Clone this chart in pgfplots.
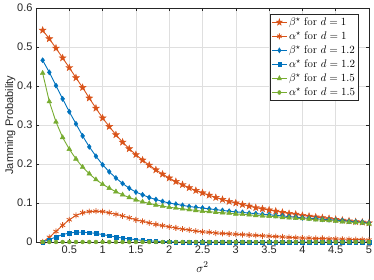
\documentclass[border=0pt]{standalone}
\usepackage{pgfplots}
\pgfplotsset{compat=1.18}
\usepackage{pgfplotstable}
\usepackage{fontspec}
\newfontfamily\axfont{Liberation Sans}
\definecolor{mred}{rgb}{0.85,0.325,0.098}
\definecolor{mblue}{rgb}{0,0.447,0.741}
\definecolor{mgreen}{rgb}{0.466,0.674,0.188}
\definecolor{axgray}{rgb}{0.15,0.15,0.15}
\pgfdeclareplotmark{pentagram}{%
 \pgfpathmoveto{\pgfpointpolar{90}{\pgfplotmarksize}}%
 \pgfpathlineto{\pgfpointpolar{126}{0.4\pgfplotmarksize}}%
 \pgfpathlineto{\pgfpointpolar{162}{\pgfplotmarksize}}%
 \pgfpathlineto{\pgfpointpolar{198}{0.4\pgfplotmarksize}}%
 \pgfpathlineto{\pgfpointpolar{234}{\pgfplotmarksize}}%
 \pgfpathlineto{\pgfpointpolar{270}{0.4\pgfplotmarksize}}%
 \pgfpathlineto{\pgfpointpolar{306}{\pgfplotmarksize}}%
 \pgfpathlineto{\pgfpointpolar{342}{0.4\pgfplotmarksize}}%
 \pgfpathlineto{\pgfpointpolar{18}{\pgfplotmarksize}}%
 \pgfpathlineto{\pgfpointpolar{54}{0.4\pgfplotmarksize}}%
 \pgfpathclose\pgfusepathqfillstroke}
\pgfplotstableread{
x    b1    a1    b12   a12   b15   a15
0.1 0.543 0.000 0.466 0.000 0.433 0
0.2 0.521 0.012 0.435 0.006 0.360 0
0.3 0.497 0.027 0.401 0.013 0.308 0
0.4 0.472 0.043 0.367 0.019 0.268 0
0.5 0.447 0.057 0.334 0.023 0.238 0
0.6 0.421 0.068 0.303 0.025 0.213 0
0.7 0.396 0.075 0.272 0.025 0.192 0
0.8 0.369 0.078 0.244 0.024 0.175 0
0.9 0.343 0.079 0.220 0.022 0.160 0
1.0 0.318 0.078 0.198 0.019 0.148 0
1.1 0.296 0.075 0.180 0.016 0.138 0
1.2 0.275 0.071 0.164 0.013 0.129 0
1.3 0.256 0.067 0.150 0.010 0.121 0
1.4 0.239 0.062 0.138 0.008 0.114 0
1.5 0.224 0.057 0.128 0.006 0.108 0
1.6 0.210 0.053 0.121 0.004 0.103 0
1.7 0.197 0.049 0.114 0.003 0.099 0
1.8 0.185 0.045 0.109 0.002 0.095 0
1.9 0.174 0.042 0.104 0.001 0.092 0
2.0 0.164 0.039 0.100 0.001 0.089 0
2.1 0.155 0.036 0.097 0.000 0.087 0
2.2 0.147 0.033 0.094 0 0.085 0
2.3 0.139 0.031 0.091 0 0.083 0
2.4 0.132 0.028 0.089 0 0.081 0
2.5 0.126 0.026 0.087 0 0.079 0
2.6 0.120 0.025 0.085 0 0.078 0
2.7 0.114 0.023 0.083 0 0.076 0
2.8 0.109 0.022 0.081 0 0.075 0
2.9 0.104 0.021 0.079 0 0.074 0
3.0 0.100 0.020 0.077 0 0.072 0
3.1 0.096 0.019 0.076 0 0.071 0
3.2 0.092 0.018 0.074 0 0.070 0
3.3 0.088 0.017 0.073 0 0.068 0
3.4 0.085 0.016 0.071 0 0.067 0
3.5 0.082 0.015 0.070 0 0.066 0
3.6 0.079 0.014 0.068 0 0.065 0
3.7 0.076 0.013 0.067 0 0.063 0
3.8 0.073 0.012 0.065 0 0.062 0
3.9 0.071 0.011 0.064 0 0.061 0
4.0 0.068 0.010 0.062 0 0.060 0
4.1 0.066 0.010 0.061 0 0.059 0
4.2 0.064 0.009 0.060 0 0.057 0
4.3 0.062 0.009 0.058 0 0.056 0
4.4 0.060 0.008 0.057 0 0.055 0
4.5 0.058 0.008 0.056 0 0.054 0
4.6 0.056 0.007 0.055 0 0.052 0
4.7 0.054 0.007 0.053 0 0.051 0
4.8 0.052 0.006 0.052 0 0.050 0
4.9 0.051 0.006 0.051 0 0.049 0
5.0 0.049 0.005 0.049 0 0.047 0
}\data
\begin{document}
\begin{tikzpicture}
\begin{axis}[
  name=ax, at={(0,0)}, anchor=south west,
  scale only axis, width=333pt, height=234pt,
  xmin=0, xmax=5, ymin=0, ymax=0.6,
  xtick={0.5,1,...,5}, ytick={0,0.1,...,0.6},
  yticklabels={0,0.1,0.2,0.3,0.4,0.5,0.6},
  xticklabels={0.5,1,1.5,2,2.5,3,3.5,4,4.5,5},
  tick align=inside, major tick length=3pt,
  axis line style={axgray, line width=0.5pt},
  tick style={axgray, line width=0.5pt},
  grid=major, major grid style={gray!25, line width=0.5pt},
  ticklabel style={font=\axfont\fontsize{11}{13}\selectfont, text=axgray},
  /pgf/number format/assume math mode=true,
  xlabel={$\sigma^2$}, xlabel style={font=\fontsize{12.5}{14}\selectfont, yshift=-2pt},
  ylabel={Jamming Probability}, ylabel style={font=\axfont\fontsize{11}{13}\selectfont, text=axgray, yshift=-5pt},
  every axis plot/.append style={line width=0.9pt},
  legend style={at={(0.97,0.975)}, anchor=north east, draw=axgray, line width=0.6pt, font=\fontsize{11}{13}\selectfont, row sep=0.8pt, inner sep=1.5pt},
  legend cell align=left,
  legend image post style={xscale=0.85},
]
\addplot[mred, mark=pentagram, mark size=3.6pt, mark options={fill=mred, line width=0.4pt}] table[x=x,y=b1] {\data};
\addlegendentry{$\beta^{\star}$ for $d=1$}
\addplot[mred, mark=asterisk, mark size=3pt, mark options={line width=0.8pt}] table[x=x,y=a1] {\data};
\addlegendentry{$\alpha^{\star}$ for $d=1$}
\addplot[mblue, mark=diamond*, mark size=2.6pt, mark options={fill=mblue, line width=0.4pt}] table[x=x,y=b12] {\data};
\addlegendentry{$\beta^{\star}$ for $d=1.2$}
\addplot[mblue, mark=square*, mark size=1.8pt, mark options={fill=mblue, line width=0.4pt}] table[x=x,y=a12] {\data};
\addlegendentry{$\alpha^{\star}$ for $d=1.2$}
\addplot[mgreen, mark=triangle*, mark size=2.8pt, mark options={fill=mgreen, line width=0.4pt}] table[x=x,y=b15] {\data};
\addlegendentry{$\beta^{\star}$ for $d=1.5$}
\addplot[mgreen, mark=*, mark size=2pt, mark options={fill=mgreen, line width=0.4pt}] table[x=x,y=a15] {\data};
\addlegendentry{$\alpha^{\star}$ for $d=1.5$}
\end{axis}
\pgfresetboundingbox
\path[use as bounding box] ([xshift=-36pt,yshift=-38pt]ax.south west) rectangle ([xshift=5pt,yshift=8pt]ax.north east);
\end{tikzpicture}
\end{document}
